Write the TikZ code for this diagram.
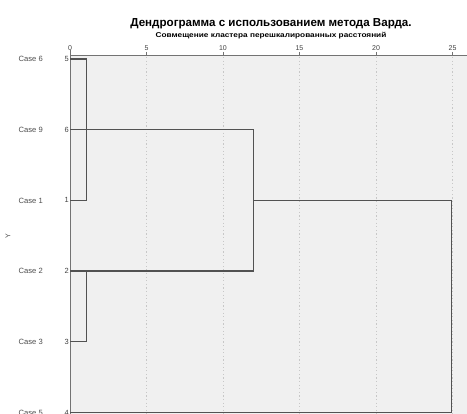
\documentclass[tikz,border=0pt]{standalone}
\usepackage{fontspec}
\setmainfont{Liberation Sans}
\begin{document}
\begin{tikzpicture}[x=1pt,y=-1pt,
  tree/.style={draw=black!68,line width=1.4pt},
  axisline/.style={draw=black!55,line width=1pt},
  grid/.style={draw=black!22,line width=0.7pt,dash pattern=on 1.2pt off 2.4pt},
  caselab/.style={anchor=east,font=\fontsize{7.6}{8}\selectfont,text=black!70,inner sep=0pt},
  numlab/.style={anchor=east,font=\fontsize{7.5}{8}\selectfont,text=black!75,inner sep=0.6pt},
  ticklab/.style={anchor=south,font=\fontsize{7}{8}\selectfont,text=black!75,inner sep=0pt}]
\useasboundingbox (0,0) rectangle (467,414);
\fill[black!6] (70,56) rectangle (467,414);
% grid
\foreach \u in {5,10,15,20,25}{
  \draw[grid] ({70+\u*15.3},57) -- ({70+\u*15.3},414);
}
% axes
\draw[axisline] (70,56) -- (467,56);
\draw[axisline] (70,50) -- (70,414);
\foreach \u in {0,5,10,15,20,25}{
  \draw[axisline] ({70+\u*15.3},52) -- ({70+\u*15.3},56);
  \node[ticklab] at ({70+\u*15.3},51) {\u};
}
% title
\node[font=\bfseries\fontsize{11.6}{13}\selectfont,inner sep=0pt] (title) at (271,24) {Дендрограмма с использованием метода Варда.};
\node[font=\bfseries\fontsize{7}{8}\selectfont,xscale=1.18,inner sep=0pt] (sub) at (271,35.5) {Совмещение кластера перешкалированных расстояний};
\node[rotate=90,font=\fontsize{7}{8}\selectfont,text=black!70,inner sep=0pt] (ylab) at (8,236) {Y};
% leaves
\foreach \name/\lab/\num/\y in {c6/Case 6/5/59, c9/Case 9/6/129.7, c1/Case 1/1/200.4, c2/Case 2/2/271.1, c3/Case 3/3/341.8, c5/Case 5/4/412.5}{
  \coordinate (\name) at (70,\y);
  \node[caselab] at (43,\y) {\lab};
  \node[numlab] at (69.5,\y) {\num};
}
% merges
\coordinate (m61) at (86.5,59);
\coordinate (m61b) at (86.5,200.4);
\coordinate (m23) at (86.5,271.1);
\coordinate (m23b) at (86.5,341.8);
\coordinate (mA) at (253.3,129.7);
\coordinate (mAb) at (253.3,271.1);
\coordinate (mF) at (451.7,200.4);
\coordinate (mFb) at (451.7,412.5);
\draw[tree] (c6) -- (m61) -- (m61b) -- (c1);
\draw[tree] (c2) -- (m23) -- (m23b) -- (c3);
\draw[tree] (c9) -- (mA) -- (mAb) -- (c2);
\draw[tree] (253.3,200.4) -- (mF) -- (mFb) -- (c5);
\end{tikzpicture}
\end{document}
